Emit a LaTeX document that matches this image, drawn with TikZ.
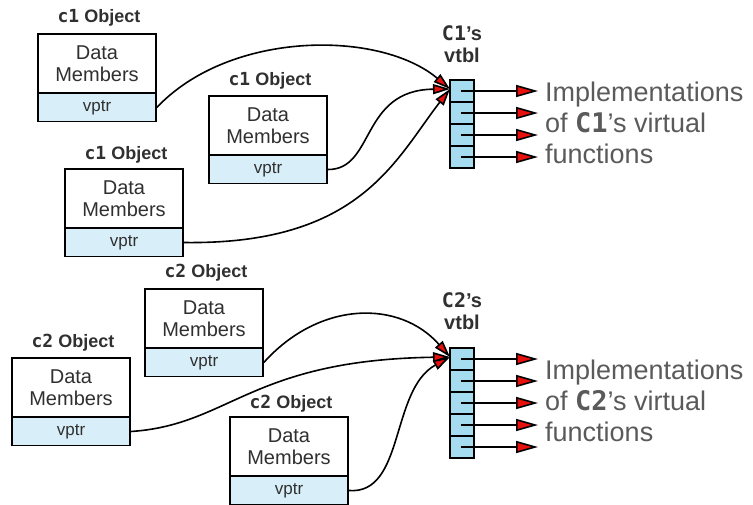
\documentclass[tikz,border=0pt]{standalone}
\usepackage{fontspec}
\setmainfont{Liberation Sans}
\newfontfamily\monofnt{DejaVu Sans Mono}
\usetikzlibrary{arrows.meta}
\definecolor{vpblue}{HTML}{D8EEF8}
\definecolor{vtblue}{HTML}{A6DCF0}
\definecolor{txtgrey}{HTML}{303030}
\definecolor{impgrey}{HTML}{5A5A5A}
\definecolor{tipred}{HTML}{E8100C}
\tikzset{
  datab/.style={draw=black, line width=1.6pt, fill=white, minimum width=118pt, minimum height=59pt, inner sep=0pt, align=center, text=txtgrey, font=\fontsize{20}{22}\selectfont},
  vpb/.style={draw=black, line width=1.6pt, fill=vpblue, minimum width=118pt, minimum height=28pt, inner sep=0pt, text=txtgrey, font=\fontsize{17}{19}\selectfont},
  objlab/.style={text=txtgrey, font=\bfseries\fontsize{18}{20}\selectfont, inner sep=0pt},
  cell/.style={draw=black, line width=1.2pt, fill=vtblue, minimum width=24pt, minimum height=22pt, inner sep=0pt},
  vtlab/.style={text=txtgrey, font=\bfseries\fontsize{20}{22}\selectfont, align=center, inner sep=0pt},
  imptxt/.style={text=impgrey, font=\fontsize{27}{31}\selectfont, align=left, anchor=west, inner sep=0pt},
  outarr/.style={line width=1.6pt, -{Triangle[length=22pt,width=12pt,fill=tipred]}},
  inarr/.style={line width=1.6pt, -{Triangle[length=17pt,width=10pt,fill=tipred]}},
}
\begin{document}
\begin{tikzpicture}[x=1pt,y=-1pt]
\useasboundingbox (0,0) rectangle (753,504);
% ---------- c1 objects ----------
\node[datab] (d1) at (97,63.5) {Data\\Members};
\node[vpb] (v1) at (97,107.5) {vptr};
\node[objlab] (l1) at (99,18) {{\monofnt c1} Object};
\node[datab] (d2) at (268,125.5) {Data\\Members};
\node[vpb] (v2) at (268,169.5) {vptr};
\node[objlab] (l2) at (270,81) {{\monofnt c1} Object};
\node[datab] (d3) at (124,198.5) {Data\\Members};
\node[vpb] (v3) at (124,242.5) {vptr};
\node[objlab] (l3) at (126,155) {{\monofnt c1} Object};
% ---------- c2 objects ----------
\node[datab] (d4) at (204,318.5) {Data\\Members};
\node[vpb] (v4) at (204,362.5) {vptr};
\node[objlab] (l4) at (206,273) {{\monofnt c2} Object};
\node[datab] (d5) at (71,387.5) {Data\\Members};
\node[vpb] (v5) at (71,431.5) {vptr};
\node[objlab] (l5) at (73,343) {{\monofnt c2} Object};
\node[datab] (d6) at (289,446.5) {Data\\Members};
\node[vpb] (v6) at (289,490.5) {vptr};
\node[objlab] (l6) at (291,404) {{\monofnt c2} Object};
% ---------- vtbl 1 ----------
\node[vtlab] (t1) at (462,44) {{\monofnt C1}’s\\vtbl};
\foreach \i/\y in {1/91,2/113,3/135,4/157}{
  \node[cell] (a\i) at (462,\y) {};
  \coordinate (ae\i) at (538,\y);
  \draw[outarr] ([xshift=-1pt]a\i.center) -- (ae\i);
}
\node[imptxt] (i1) at (545,123) {Implementations\\of {\monofnt\bfseries C1}’s virtual\\functions};
% ---------- vtbl 2 ----------
\node[vtlab] (t2) at (462,311) {{\monofnt C2}’s\\vtbl};
\foreach \i/\y in {1/359,2/381,3/403,4/425,5/447}{
  \node[cell] (b\i) at (462,\y) {};
  \coordinate (be\i) at (538,\y);
  \draw[outarr] ([xshift=-1pt]b\i.center) -- (be\i);
}
\node[imptxt] (i2) at (545,401) {Implementations\\of {\monofnt\bfseries C2}’s virtual\\functions};
% ---------- incoming pointers ----------
\coordinate (p1) at (450,89);
\coordinate (p2) at (450,357);
\draw[inarr] (v1.east) .. controls (230,30) and (380,30) .. (p1);
\draw[inarr] (v2.east) .. controls (375,170) and (360,90) .. (p1);
\draw[inarr] (v3.east) .. controls (360,245) and (395,160) .. (p1);
\draw[inarr] (v4.east) .. controls (320,300) and (400,300) .. (p2);
\draw[inarr] (v5.east) .. controls (230,425) and (250,360) .. (p2);
\draw[inarr] (v6.east) .. controls (405,495) and (390,390) .. (p2);
\end{tikzpicture}
\end{document}
